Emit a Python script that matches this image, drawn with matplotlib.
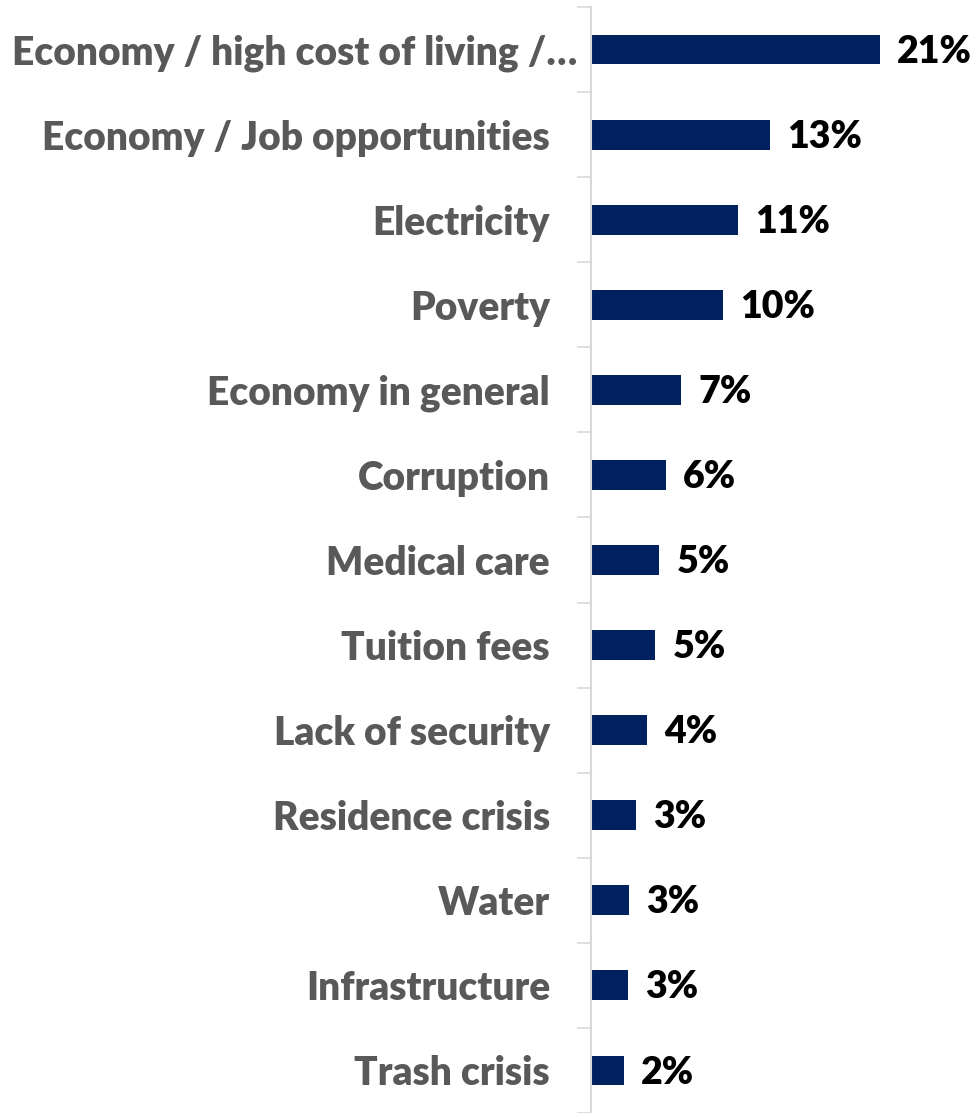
import matplotlib.pyplot as plt
from matplotlib.transforms import ScaledTranslation

# Data
categories = ['Economy / high cost of living /…', 'Economy / Job opportunities', 'Electricity',
              'Poverty', 'Economy in general', 'Corruption', 'Medical care', 'Tuition fees',
              'Lack of security', 'Residence crisis', 'Water', 'Infrastructure', 'Trash crisis']
values = [21.2, 13.1, 10.8, 9.7, 6.6, 5.5, 5.0, 4.7, 4.1, 3.3, 2.8, 2.7, 2.4]

bar_color = '#002060'
label_color = '#595959'
font = 'Lato'

fig = plt.figure(figsize=(9.77, 11.13), dpi=100)
ax = fig.add_axes([591/977, 0.0, 1 - 591/977, 1 - 7/1113])

pos = list(range(len(categories)))
ax.barh(pos, values, height=0.35, color=bar_color)
ax.set_ylim(len(categories) - 0.5, -0.5)
ax.set_xlim(0, 386/13.63)

for p, v in zip(pos, values):
    ax.annotate(f'{v:.0f}%', xy=(v, p), xytext=(12.5, -1.5), textcoords='offset points',
                va='center', ha='left', fontsize=27, fontweight='heavy',
                family=font, color='black')

ax.set_yticks(pos)
ax.set_yticklabels(categories, fontsize=28, fontweight='heavy', family=font, color=label_color)
ax.tick_params(axis='y', which='major', length=0, pad=29.5)
ax.set_yticks([p - 0.5 for p in pos] + [len(pos) - 0.5], minor=True)
ax.tick_params(axis='y', which='minor', length=10, color='#d9d9d9', width=1.2)
ax.set_xticks([])

# the truncated first label sits a little further right
first = ax.get_yticklabels()[0]
first.set_transform(first.get_transform() + ScaledTranslation(0.27, 0, fig.dpi_scale_trans))

for s in ['top', 'right', 'bottom']:
    ax.spines[s].set_visible(False)
ax.spines['left'].set_color('#d9d9d9')
ax.spines['left'].set_linewidth(1.5)

fig.savefig('out.png', dpi=100)
